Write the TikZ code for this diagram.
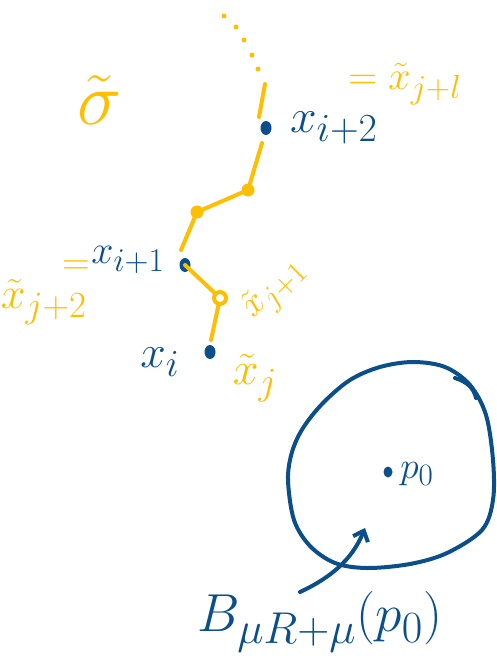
\documentclass[tikz,border=0pt]{standalone}
\usetikzlibrary{arrows.meta,shapes.geometric}
\definecolor{blu}{HTML}{0B4F8A}
\definecolor{yel}{HTML}{FFBE00}
\begin{document}
\begin{tikzpicture}[x=1pt,y=-1pt,line cap=round,line join=round,
  yline/.style={yel,line width=4pt},
  bline/.style={blu,line width=4pt},
  bdot/.style={ellipse,fill=blu,inner sep=0pt,minimum width=11pt,minimum height=14pt},
  ydot/.style={circle,fill=yel,inner sep=0pt,minimum size=13pt},
  yring/.style={circle,draw=yel,line width=4pt,inner sep=0pt,minimum size=12pt},
  tdot/.style={circle,fill=yel,inner sep=0pt,minimum size=5pt},
  blab/.style={blu,inner sep=0pt,font=\Huge,scale=1.6},
  ylab/.style={yel,inner sep=0pt,font=\Huge,scale=1.55}]
\useasboundingbox (0,0) rectangle (497,663);
% points
\node[bdot] (xi2) at (266,128) {};
\node[bdot] (xi1) at (185,265) {};
\node[bdot] (xi) at (210,352) {};
\node[ydot] (y1) at (248,190) {};
\node[ydot] (y2) at (197,212) {};
\node[yring] (y3) at (220,298) {};
\node[bdot,minimum width=9pt,minimum height=11pt] (p0) at (388,472) {};
% dotted continuation
\node[tdot] (d1) at (224,16) {};
\node[tdot] (d2) at (236,27) {};
\node[tdot] (d3) at (244,40) {};
\node[tdot] (d4) at (252,55) {};
\node[tdot] (d5) at (258,69) {};
% yellow path
\coordinate (a1) at (265,84);
\coordinate (a2) at (259,117);
\coordinate (a3) at (262,143);
\coordinate (a4) at (181,250);
\coordinate (a5) at (211,340);
\draw[yline] (a1) -- (a2);
\draw[yline] (a3) -- (y1.center) -- (y2.center) -- (a4);
\draw[yline] (xi1.center) -- (y3);
\draw[yline] (y3) -- (a5);
% labels
\node[blab,scale=1.2] (lxi2) at (334,128) {$x_{i+2}$};
\node[blab] (lxi1) at (128,260) {$x_{i+1}$};
\node[blab,scale=1.15] (lxi) at (160,362) {$x_i$};
\node[ylab,scale=1.04] (lxjl) at (405,84) {$=\tilde x_{j+l}$};
\node[ylab,scale=1.15] (lxj2) at (44,302) {$\tilde x_{j+2}$};
\node[ylab] (eq2) at (76,268) {$=$};
\node[ylab,scale=0.95,rotate=45] (lxj1) at (275,290) {$\tilde x_{j+1}$};
\node[ylab,scale=1.2] (lxj) at (255,378) {$\tilde x_j$};
\node[yel,inner sep=0pt,font=\Huge,scale=3.0] (sig) at (100,100) {$\tilde\sigma$};
\node[blu,inner sep=0pt,font=\Huge,scale=1.5,anchor=west] (lp0) at (400,474) {$p_0$};
\node[blu,inner sep=0pt,font=\Huge,scale=2.15] (lB) at (320,622) {$B_{\mu R+\mu}(p_0)$};
% ball
\draw[bline] plot[smooth cycle,tension=0.55] coordinates {(413,362) (445,367) (470,385) (486,415) (493,460) (493,500) (482,530) (447,553) (410,564) (367,568) (335,563) (310,546) (294,520) (288,480) (292,452) (303,428) (323,403) (350,380) (380,367)};
\draw[bline] (455,378) .. controls (468,382) and (474,389) .. (476,398);
% arrow
\coordinate (ar) at (300,592);
\coordinate (ah) at (365,528);
\draw[bline,-{Straight Barb[length=9pt,width=16pt]}] (ar) .. controls (330,578) and (352,560) .. (ah);
\end{tikzpicture}
\end{document}
